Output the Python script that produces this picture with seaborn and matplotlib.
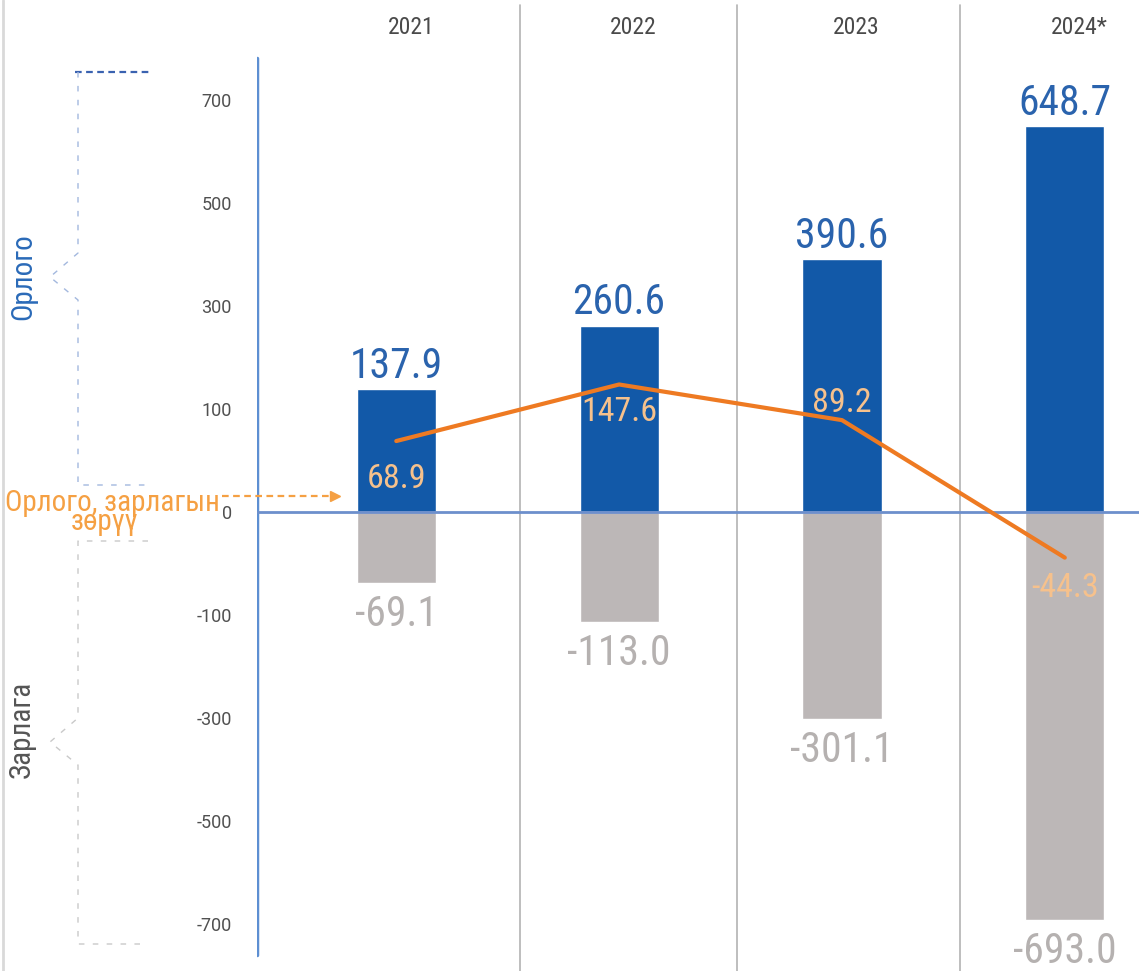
import numpy as np
import pandas as pd
import seaborn as sns
import matplotlib.pyplot as plt
from matplotlib.lines import Line2D

# data
years = ["2021", "2022", "2023", "2024*"]
orlogo = [137.9, 260.6, 390.6, 648.7]
zarlaga = [-69.1, -113.0, -301.1, -693.0]
zoruu = [68.9, 147.6, 89.2, -44.3]
tick_vals = [700, 500, 300, 100, 0, -100, -300, -500, -700]

# colours
c_blue = "#1259a8"
c_blue_txt = "#2a63ad"
c_gray = "#bcb7b7"
c_gray_txt = "#b5b1b0"
c_orange = "#ee7a22"
c_orange_txt = "#f6c18c"

sns.set_style("white")
plt.rcParams["font.family"] = ["Roboto Condensed", "DejaVu Sans"]

W, H = 1139, 971
fig = plt.figure(figsize=(W / 100, H / 100), dpi=100)
ax = fig.add_axes([257 / W, 0, (W - 257) / W, 1])


# y axis of the original is not linear: 0-100 takes as much room as 100-300
def fwd(v):
    v = np.asarray(v, dtype=float)
    a = np.abs(v)
    return np.sign(v) * np.where(a <= 100, a / 100, 1 + (a - 100) / 200)


def inv(u):
    u = np.asarray(u, dtype=float)
    a = np.abs(u)
    return np.sign(u) * np.where(a <= 1, a * 100, 100 + (a - 1) * 200)


df = pd.DataFrame({"year": years, "orlogo": orlogo, "zarlaga": zarlaga, "zoruu": zoruu})

sns.barplot(data=df, x="year", y="orlogo", color=c_blue, saturation=1,
            width=0.355, errorbar=None, ax=ax, zorder=2)
sns.barplot(data=df, x="year", y="zarlaga", color=c_gray, saturation=1,
            width=0.355, errorbar=None, ax=ax, zorder=2)
sns.lineplot(x=np.arange(len(years)), y=df["zoruu"], color=c_orange, lw=3,
             ax=ax, zorder=4)

ax.set_yscale("function", functions=(fwd, inv))
px_unit = 103
zero_px = 512
ax.set_ylim(float(inv(-(H - zero_px) / px_unit)), float(inv(zero_px / px_unit)))
ax.set_xlim(-0.625, 3.333)

for s in ax.spines.values():
    s.set_visible(False)
ax.set_xticks([])
ax.set_xlabel("")
ax.set_ylabel("")
ax.set_yticks(tick_vals)
ax.set_yticklabels([str(t) for t in tick_vals], family=["Roboto", "DejaVu Sans"],
                   fontsize=13, color="#505050")
ax.tick_params(axis="y", length=0, pad=18)

# axis, zero line and column separators
ax.axvline(-0.625, ymin=16 / H, ymax=1 - 58 / H, color="#5d8fd2", lw=2.5, zorder=3)
ax.axhline(0, color="#6d8fcc", lw=2, zorder=3)
for xs in [0.556, 1.53, 2.53]:
    ax.axvline(xs, ymin=0, ymax=1 - 5 / H, color="#b3b3b3", lw=1.2, zorder=1)

# year headers
for i, y in enumerate(years):
    ax.text(i + 0.065, 1 - 27 / H, y, transform=ax.get_xaxis_transform(),
            ha="center", va="center", fontsize=17, color="#4a4a4a")

# value labels
for i, v in enumerate(orlogo):
    ax.annotate(f"{v:.1f}", (i, v), xytext=(0, 8.5), textcoords="offset points",
                ha="center", va="baseline", fontsize=30, color=c_blue_txt, zorder=5)
for i, v in enumerate(zarlaga):
    ax.annotate(f"{v:.1f}", (i, v), xytext=(0, -31), textcoords="offset points",
                ha="center", va="baseline", fontsize=30, color=c_gray_txt, zorder=5)
lbl_off = [-34, -26, 6, -28]
for i, v in enumerate(zoruu):
    ax.annotate(f"{v:.1f}", (i, v), xytext=(0, lbl_off[i]), textcoords="offset points",
                ha="center", va="baseline", fontsize=24.5, color=c_orange_txt, zorder=5)


# left side decorations in figure pixels
def fpx(xs, ys):
    return [x / W for x in xs], [1 - y / H for y in ys]


fig.add_artist(Line2D(*fpx([3, 3], [0, H]), color="#d9d9d9", lw=2))
fig.add_artist(Line2D(*fpx([75, 150], [72, 72]), color="#3a62b0", lw=1.6, ls=(0, (3, 2))))
fig.add_artist(Line2D(*fpx([78, 78, 50, 78, 78, 148], [72, 253, 277, 300, 485, 485]),
                      color="#a3b8de", lw=1, ls=(0, (4, 6))))
fig.add_artist(Line2D(*fpx([148, 78, 78, 50, 78, 78, 148], [541, 541, 718, 742, 765, 944, 944]),
                      color="#c9c9c9", lw=1, ls=(0, (4, 6))))

fig.text(23 / W, 1 - 277 / H, "Орлого", rotation=90, ha="center", va="center",
         fontsize=21, color="#2a6ab8")
fig.text(22 / W, 1 - 729 / H, "Зарлага", rotation=90, ha="center", va="center",
         fontsize=21, color="#555555")

fig.text(112 / W, 1 - 511 / H, "Орлого, зарлагын", ha="center", va="baseline",
         fontsize=21, color="#f5a043")
fig.text(105 / W, 1 - 530 / H, "зөрүү", ha="center", va="baseline",
         fontsize=21, color="#f5a043")
fig.add_artist(Line2D(*fpx([222, 333], [496, 496]), color="#f5a043", lw=1.6, ls=(0, (3, 2))))
fig.add_artist(Line2D(*fpx([335], [496]), color="#f5a043", marker=">", markersize=7, lw=0))

fig.savefig("out.png", dpi=100)
